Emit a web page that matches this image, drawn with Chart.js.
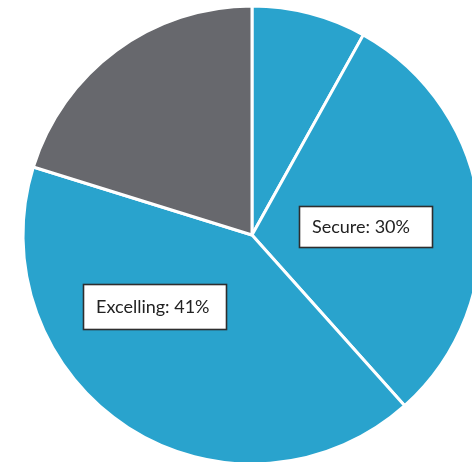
<!DOCTYPE html>
<html>
<head>
<meta charset="utf-8">
<script src="https://cdn.jsdelivr.net/npm/chart.js@4"></script>
<style>
  html, body { margin: 0; padding: 0; background: #fff; overflow: hidden; }
  #wrap { position: absolute; left: 0; top: 0; width: 504px; height: 470px; }
</style>
</head>
<body>
<div id="wrap"><canvas id="pie" width="504" height="470"></canvas></div>
<script>
// Slices clockwise from 12 o'clock
const categories = ['Greater Depth', 'Secure', 'Excelling', 'Developing'];
const values = [8, 30, 41, 20];
const sliceColors = ['#29a3cd', '#29a3cd', '#29a3cd', '#67686d'];

// Which slices get a callout box
const calloutIndexes = [1, 2];

// Callout box placement (distance as fraction of radius, angle nudge in degrees)
const calloutStyle = {
    1: { dist: 0.497, shift: 2, w: 133, h: 41 },
    2: { dist: 0.53, shift: 21, w: 143, h: 45 }
};

const total = values.reduce((a, b) => a + b, 0);

const calloutPlugin = {
    id: 'callouts',
    afterDatasetsDraw(chart) {
        const ctx = chart.ctx;
        const meta = chart.getDatasetMeta(0);
        ctx.save();
        ctx.font = '18px Lato, "Open Sans", sans-serif';
        ctx.textBaseline = 'middle';
        ctx.textAlign = 'left';
        calloutIndexes.forEach(i => {
            const arc = meta.data[i];
            const { x, y, startAngle, endAngle, outerRadius } = arc.getProps(['x', 'y', 'startAngle', 'endAngle', 'outerRadius'], true);
            const s = calloutStyle[i];
            const mid = (startAngle + endAngle) / 2 + s.shift * Math.PI / 180;
            const cx = x + Math.cos(mid) * s.dist * outerRadius;
            const cy = y + Math.sin(mid) * s.dist * outerRadius;
            const left = Math.round(cx - s.w / 2);
            const top = Math.round(cy - s.h / 2);

            ctx.fillStyle = '#ffffff';
            ctx.fillRect(left, top, s.w, s.h);
            ctx.lineWidth = 1.6;
            ctx.strokeStyle = '#2e2e2e';
            ctx.strokeRect(left + 0.5, top + 0.5, s.w, s.h);

            const pct = Math.round(values[i] / total * 100);
            ctx.fillStyle = '#222222';
            ctx.fillText(`${categories[i]}: ${pct}%`, left + 13, top + s.h / 2 + 1);
        });
        ctx.restore();
    }
};

new Chart(document.getElementById('pie').getContext('2d'), {
    type: 'pie',
    data: {
        labels: categories,
        datasets: [{
            data: values,
            backgroundColor: sliceColors,
            borderColor: '#ffffff',
            borderWidth: 3
        }]
    },
    options: {
        responsive: false,
        animation: false,
        devicePixelRatio: 1,
        radius: 229,
        layout: { padding: 0 },
        plugins: { legend: { display: false }, tooltip: { enabled: false } }
    },
    plugins: [calloutPlugin]
});
</script>
</body>
</html>
